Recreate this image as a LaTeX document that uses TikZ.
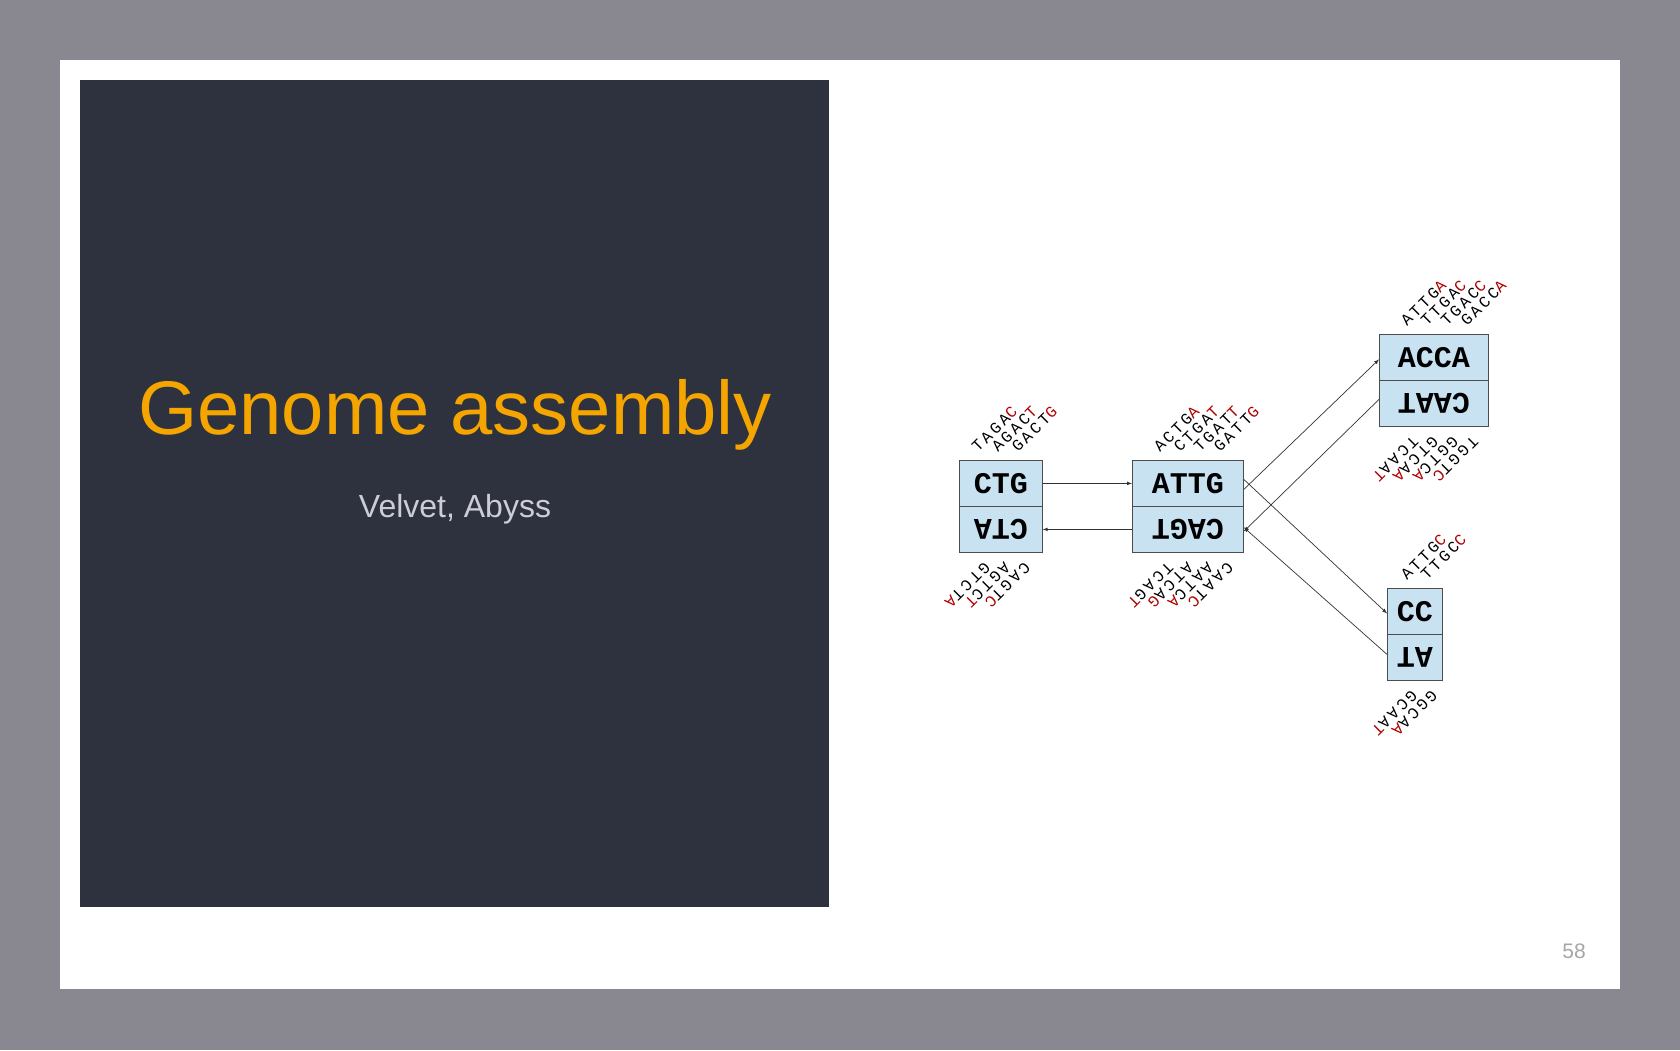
\documentclass[tikz,border=0pt]{standalone}
\usepackage{fontspec}
\setmainfont{Liberation Sans}
\newfontfamily\mono{Liberation Mono}
\newfontfamily\monols{Liberation Mono}[LetterSpace=18]
\begin{document}
\begin{tikzpicture}[x=1pt,y=-1pt,
  half/.style={draw=black!70,fill={rgb,255:red,200;green,226;blue,242},line width=0.8pt,minimum height=46,inner sep=0pt,font=\mono\bfseries\fontsize{30}{30}\selectfont},
  arr/.style={draw=black!80,line width=0.7pt,-latex},
  lab/.style={inner sep=0pt,font=\monols\fontsize{16}{16}\selectfont}]
\useasboundingbox (0,0) rectangle (1680,1050);
\fill[fill={rgb,255:red,137;green,136;blue,145}] (0,0) rectangle (1680,1050);
\fill[white] (60,60) rectangle (1620,989);
\fill[fill={rgb,255:red,46;green,49;blue,62}] (80,80) rectangle (829,907);
\node[font=\fontsize{76}{76}\selectfont,text={rgb,255:red,245;green,165;blue,0}] (title) at (455,415) {Genome assembly};
\node[font=\fontsize{32}{32}\selectfont,text={rgb,255:red,205;green,205;blue,215}] (sub) at (455,509) {Velvet, Abyss};
\node[font=\fontsize{21}{21}\selectfont,text=gray!70] (pg) at (1574,951) {58};
% boxes
\node[half,minimum width=83,anchor=north west] (ctgT) at (959,460) {CTG};
\node[half,minimum width=83,anchor=north west] (ctgB) at (959,506) {\rotatebox{180}{CTA}};
\node[half,minimum width=111,anchor=north west] (attgT) at (1132,460) {ATTG};
\node[half,minimum width=111,anchor=north west] (attgB) at (1132,506) {\rotatebox{180}{CAGT}};
\node[half,minimum width=109,anchor=north west] (accaT) at (1379,334) {ACCA};
\node[half,minimum width=109,anchor=north west] (accaB) at (1379,380) {\rotatebox{180}{CAAT}};
\node[half,minimum width=55,anchor=north west] (ccT) at (1387,588) {CC};
\node[half,minimum width=55,anchor=north west] (ccB) at (1387,634) {\rotatebox{180}{AT}};
% arrows
\draw[arr] (ctgT.east) -- (attgT.west);
\draw[arr] (attgB.west) -- (ctgB.east);
\draw[arr] ([yshift=-6]attgT.east) -- ([yshift=-2]accaT.west);
\draw[arr] ([yshift=4]accaB.west) -- ([yshift=-2]attgB.east);
\draw[arr] ([yshift=4]attgT.east) -- ([yshift=-2]ccT.west);
\draw[arr] ([yshift=3]ccB.west) -- ([yshift=2]attgB.east);
% labels
\newcommand\up[4]{\node[lab,rotate=45,anchor=base west] (#1) at (#2,453) {#3\textcolor{red!70!black}{#4}};}
\newcommand\upy[5]{\node[lab,rotate=45,anchor=base west] (#1) at (#2,#5) {#3\textcolor{red!70!black}{#4}};}
\newcommand\dn[5]{\node[lab,rotate=225,anchor=base west] (#1) at (#2,#5) {#3\textcolor{red!70!black}{#4}};}
\up{a1}{978}{TAGA}{C}\up{a2}{998}{AGAC}{T}\up{a3}{1018}{GACT}{G}
\up{b1}{1160}{ACTG}{A}\up{b2}{1180}{CTGA}{T}\up{b3}{1200}{TGAT}{T}\up{b4}{1220}{GATT}{G}
\upy{c1}{1407}{ATTG}{A}{327}\upy{c2}{1427}{TTGA}{C}{327}\upy{c3}{1447}{TGAC}{C}{327}\upy{c4}{1467}{GACC}{A}{327}
\upy{d1}{1407}{ATTG}{C}{581}\upy{d2}{1427}{TTGC}{C}{581}
\dn{e1}{1024}{CAGT}{C}{561}\dn{e2}{1004}{AGTC}{T}{561}\dn{e3}{984}{GTCT}{A}{561}
\dn{f1}{1227}{CAAT}{C}{561}\dn{f2}{1207}{AATC}{A}{561}\dn{f3}{1187}{ATCA}{G}{561}\dn{f4}{1167}{TCAG}{T}{561}
\dn{g1}{1472}{TGGT}{C}{435}\dn{g2}{1452}{GGTC}{A}{435}\dn{g3}{1432}{GTCA}{A}{435}\dn{g4}{1412}{TCAA}{T}{435}
\dn{h1}{1431}{GGCA}{A}{689}\dn{h2}{1411}{GCAA}{T}{689}
\end{tikzpicture}
\end{document}
